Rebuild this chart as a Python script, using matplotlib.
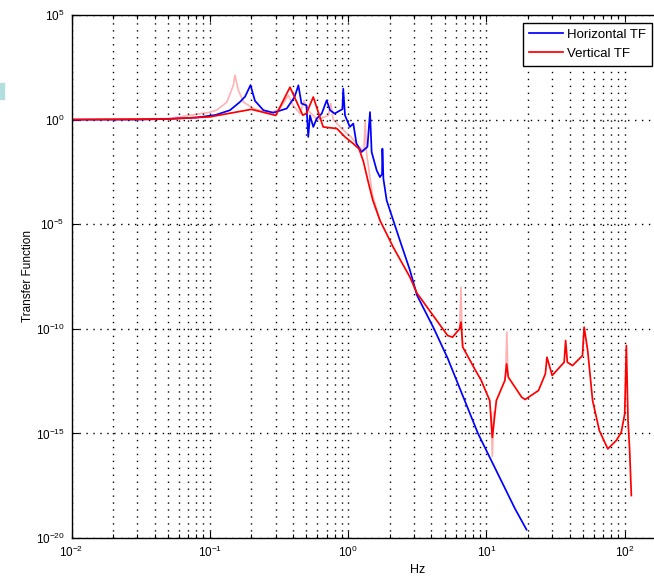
import numpy as np
import matplotlib
matplotlib.use("Agg")
import matplotlib.pyplot as plt
from matplotlib.patches import Rectangle
from matplotlib.ticker import LogLocator, LogFormatterSciNotation, NullLocator, FixedLocator

plt.rcParams['font.family'] = ['Liberation Sans', 'DejaVu Sans']
plt.rcParams['mathtext.fontset'] = 'custom'
plt.rcParams['mathtext.rm'] = 'Liberation Sans'
plt.rcParams['mathtext.it'] = 'Liberation Sans:italic'

# ---- data (frequency in Hz, magnitude as log10 exponent) ----
horiz_freq = [0.01, 0.03, 0.05, 0.08, 0.11, 0.14, 0.165, 0.18, 0.197, 0.212,
              0.244, 0.288, 0.36, 0.41, 0.437, 0.46, 0.50, 0.515, 0.53, 0.56,
              0.593, 0.645, 0.70, 0.74, 0.80, 0.91, 0.922, 0.95, 1.03, 1.09,
              1.15, 1.25, 1.38, 1.44, 1.48, 1.61, 1.70, 1.76, 1.77, 1.80,
              1.90, 2.37, 2.8, 3.15, 4.18, 5.24, 8.69, 16.1, 19.5]
horiz_log = [0, 0, 0.03, 0.1, 0.22, 0.45, 0.84, 1.1, 1.65, 0.9,
             0.45, 0.33, 0.53, 1.08, 1.64, 0.77, 0.68, -0.83, 0.2, -0.35,
             0.05, 0.29, 0.92, 0.45, 0.29, 0.5, 1.48, 0.2, -0.35, -0.19,
             -1.15, -1.55, -1.3, 0.36, -1.55, -2.43, -2.75, -2.6, -1.39, -2.83,
             -3.86, -5.78, -7.2, -8.4, -10.0, -11.4, -15.0, -18.6, -19.6]

vert_freq = [0.01, 0.05, 0.1, 0.185, 0.2, 0.28, 0.30, 0.38, 0.47, 0.50,
             0.56, 0.66, 0.83, 0.95, 1.09, 1.2, 1.29, 1.4, 1.51, 1.7,
             2.12, 2.8, 3.15, 5.24, 5.69, 6.4, 6.55, 6.75, 8.2, 9.18,
             10.57, 11.04, 11.8, 13.6, 14.0, 14.4, 18.0, 19.05, 23.8, 26.7,
             27.4, 29.9, 36.5, 37.4, 38.5, 41.9, 49.5, 50.9, 54.0, 58.6,
             65.6, 75.5, 86.9, 94.4, 100, 102.8, 105.7, 108.6, 111.7]
vert_log = [0, 0.03, 0.13, 0.45, 0.49, 0.25, 0.2, 1.55, 0.21, 0.3,
            1.08, -0.35, -0.43, -0.83, -1.15, -1.4, -2.0, -3.0, -3.86, -4.82,
            -6.1, -7.53, -8.3, -10.32, -10.4, -10.0, -9.68, -10.88, -11.9, -12.47,
            -13.43, -15.19, -13.43, -12.47, -11.68, -12.31, -13.27, -13.38, -12.95, -12.15,
            -11.36, -12.23, -11.6, -10.56, -11.6, -11.76, -11.28, -9.92, -11.04, -13.43,
            -14.87, -15.74, -15.34, -14.95, -14.07, -10.8, -14.39, -15.82, -17.97]

# faint (lighter) vertical curve
vfaint_freq = [0.01, 0.05, 0.1, 0.112, 0.133, 0.148, 0.152, 0.161, 0.175, 0.207,
               0.272, 0.322, 0.37, 0.40, 0.449, 0.48, 0.52, 0.6, 0.72, 0.75,
               0.78, 0.9, 1.05, 1.2, 1.30, 1.33, 1.36, 1.5, 1.7, np.nan,
               6.4, 6.55, 6.7, np.nan, 10.8, 11.04, 11.3, np.nan, 13.8, 14.05, 14.3]
vfaint_log = [0, 0.05, 0.35, 0.45, 0.84, 1.64, 2.12, 1.4, 0.84, 0.53,
              0.29, 0.53, 1.16, 0.68, 0.29, 0.9, 0.4, 0.0, 0.2, 0.77,
              0.0, -0.43, -0.83, -1.3, -1.5, -0.05, -1.6, -3.6, -4.82, np.nan,
              -10.0, -8.0, -10.8, np.nan, -14.0, -16.1, -14.0, np.nan, -12.0, -10.16, -12.2]

y_ticks_exp = [-20, -15, -10, -5, 0, 5]
x_ticks_exp = [-2, -1, 0, 1, 2]

W, H = 654, 578
fig = plt.figure(figsize=(W / 100, H / 100), dpi=100)
ax_left, ax_bottom = 71.5 / W, 1 - 538 / H
ax_w = 5 * 138.3 / W
ax_h = (538 - 15) / H
ax = fig.add_axes([ax_left, ax_bottom, ax_w, ax_h])

ax.set_xscale('log')
ax.set_yscale('log')
ax.set_xlim(1e-2, 1e3)
ax.set_ylim(1e-20, 1e5)

ax.plot(vfaint_freq, 10.0 ** np.array(vfaint_log, dtype=float), color='#ff0000', alpha=0.3, lw=1.2)
h1, = ax.plot(horiz_freq, 10.0 ** np.array(horiz_log, dtype=float), color='#0000ff', lw=1.25, label='Horizontal TF')
h2, = ax.plot(vert_freq, 10.0 ** np.array(vert_log, dtype=float), color='#ff0000', lw=1.25, label='Vertical TF')

ax.xaxis.set_major_locator(FixedLocator([10.0 ** e for e in x_ticks_exp]))
ax.xaxis.set_minor_locator(LogLocator(base=10, subs=np.arange(2, 10), numticks=20))
ax.xaxis.set_major_formatter(LogFormatterSciNotation())
ax.set_yticks([10.0 ** e for e in y_ticks_exp])
ax.yaxis.set_minor_locator(NullLocator())
ax.yaxis.set_major_formatter(LogFormatterSciNotation())

ax.tick_params(which='both', direction='in', top=True, right=True, labelsize=8.5,
               width=0.8, colors='black')
ax.tick_params(which='major', length=5, pad=5)
ax.tick_params(which='minor', length=3)

grid_kw = dict(color='black', linestyle=(0, (1, 4)), linewidth=1.0)
ax.grid(True, which='both', axis='x', **grid_kw)
ax.grid(True, which='major', axis='y', **grid_kw)
for sp in ax.spines.values():
    sp.set_linewidth(1.0)

ax.set_xlabel('Hz', fontsize=9, labelpad=3)
fig.text(28 / W, 1 - 276 / H, 'Transfer Function', rotation=90, fontsize=8.5,
         ha='center', va='center')

leg = ax.legend(handles=[h1, h2], loc='upper right',
                bbox_to_anchor=(652 / W, 1 - 22.7 / H), bbox_transform=fig.transFigure,
                fontsize=9.5, frameon=True, fancybox=False, framealpha=1,
                edgecolor='black', borderaxespad=0, borderpad=0.45,
                handlelength=2.6, handletextpad=0.3, labelspacing=0.5)
leg.get_frame().set_linewidth(1.0)

fig.patches.append(Rectangle((0, 1 - 99 / H), 4 / W, 16 / H, transform=fig.transFigure,
                             color='#b3dede', zorder=0))

fig.savefig('out.png', dpi=100)
